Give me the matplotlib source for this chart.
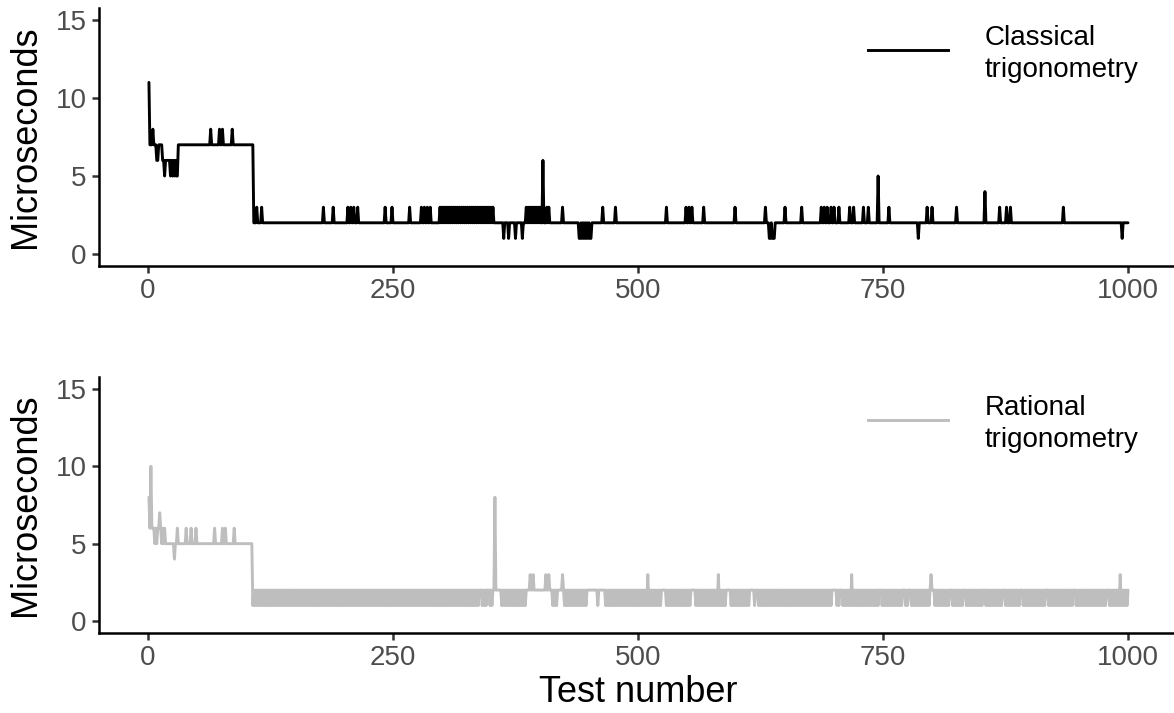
import numpy as np
import matplotlib
matplotlib.use("Agg")
from matplotlib import pyplot as plt
from matplotlib.lines import Line2D

plt.rcParams['font.family'] = ['Liberation Sans', 'DejaVu Sans']

# test numbers 1..1000
test_number = np.arange(1, 1001)

# classical trigonometry
classical_head = [11, 7, 7, 7, 8, 7, 7, 7, 6, 6, 7, 7, 7, 7, 6, 6, 5, 6, 6, 6,
                  6, 6, 5, 6, 5, 6, 5, 6, 5, 5, 7]          # tests 1..31
classical_plateau = 7                                       # tests 32..107
classical_plateau_up = [64, 73, 76, 86]                      # value 8
classical_base = 2                                          # tests 108..1000
classical_up = [111, 116, 179, 189, 204, 207, 210, 214, 242, 249, 267, 279, 282,
                285, 288, 407, 409, 423, 464, 477, 529, 549, 552, 555, 567, 599,
                630, 650, 667, 687, 690, 693, 697, 700, 705, 716, 720, 730, 735,
                756, 795, 800, 825, 869, 876, 880, 934]     # value 3
classical_band = [(298, 352), (385, 400)]                   # toggling 2/3
classical_down = [363, 368, 375, 382, 440, 441, 443, 445, 447, 449, 451, 452,
                  634, 635, 637, 638, 639, 786, 994]        # value 1
classical_tall = {403: 6, 745: 5, 854: 4}

# rational trigonometry
rational_head = [8, 6, 10, 6, 6, 6, 5, 6, 5, 6, 6, 7, 6, 5, 6, 5, 6, 5]  # 1..18
rational_plateau = 5                                        # tests 19..106
rational_plateau_up = [30, 39, 44, 49, 68, 76, 79, 88]      # value 6
rational_plateau_down = [27]                                # value 4
# from 107 on the series toggles 1/2, except where it sits flat at 2
rational_flat = [(339, 340), (346, 347), (353, 359), (386, 411), (418, 423),
                 (442, 442), (449, 457), (461, 465), (525, 528), (555, 558),
                 (591, 594), (614, 617), (621, 622), (699, 702), (706, 707),
                 (747, 748), (771, 772), (776, 777), (801, 802), (818, 819),
                 (832, 833), (852, 853), (872, 873), (890, 891), (917, 918),
                 (944, 945), (978, 979)]
rational_up = [390, 393, 406, 409, 423, 510, 582, 718, 799, 992]   # value 3
rational_tall = {354: 8}


def build_classical():
    v = np.full(1000, classical_base)
    v[:31] = classical_head
    v[31:107] = classical_plateau
    for t in classical_plateau_up:
        v[t - 1] = 8
    for s, e in classical_band:
        idx = np.arange(s, e + 1)
        v[s - 1:e] = np.where(idx % 2 == 0, 3, 2)
    for t in classical_up:
        v[t - 1] = 3
    for t in classical_down:
        v[t - 1] = 1
    for t, val in classical_tall.items():
        v[t - 1] = val
    return v


def build_rational():
    v = np.full(1000, rational_plateau)
    v[:18] = rational_head
    for t in rational_plateau_up:
        v[t - 1] = 6
    for t in rational_plateau_down:
        v[t - 1] = 4
    idx = np.arange(107, 1001)
    v[106:] = np.where(idx % 2 == 0, 2, 1)
    for s, e in rational_flat:
        v[s - 1:e] = 2
    for t in rational_up:
        v[t - 1] = 3
    for t, val in rational_tall.items():
        v[t - 1] = val
    return v


classical = build_classical()
rational = build_rational()

W, H = 1174, 713
fig = plt.figure(figsize=(W / 100, H / 100), dpi=100)

left = 99 / W
width = 1078 / W
ax1 = fig.add_axes([left, 1 - 265.7 / H, width, (265.7 - 8.3) / H])
ax2 = fig.add_axes([left, 1 - 632.6 / H, width, (632.6 - 377.4) / H])

tick_col = '#4D4D4D'

panels = [(ax1, classical, 'black', 'Classical\ntrigonometry', 50),
          (ax2, rational, '#BEBEBE', 'Rational\ntrigonometry', 420)]

for ax, y, col, lab, ly in panels:
    ax.plot(test_number, y, color=col, lw=2.1, solid_joinstyle='round',
            solid_capstyle='round')
    ax.set_xlim(-49.95, 1049.95)
    ax.set_ylim(-0.75, 15.75)
    ax.set_xticks([0, 250, 500, 750, 1000])
    ax.set_yticks([0, 5, 10, 15])
    for s in ['top', 'right']:
        ax.spines[s].set_visible(False)
    for s in ['left', 'bottom']:
        ax.spines[s].set_linewidth(1.8)
        ax.spines[s].set_color('black')
    ax.tick_params(length=5, width=1.8, color='#333333', labelcolor=tick_col,
                   labelsize=20, pad=4)
    ax.set_ylabel('Microseconds', fontsize=26, labelpad=9)
    # legend key drawn by hand, in figure pixels
    fig.add_artist(Line2D([868 / W, 948 / W], [1 - ly / H, 1 - ly / H],
                          color=col, lw=2.1, transform=fig.transFigure))
    fig.text(985 / W, 1 - (ly + 4) / H, lab, fontsize=20, color='black',
             ha='left', va='center', linespacing=1.28)

ax2.set_xlabel('Test number', fontsize=26, labelpad=3)

fig.savefig('out.png', dpi=100)
